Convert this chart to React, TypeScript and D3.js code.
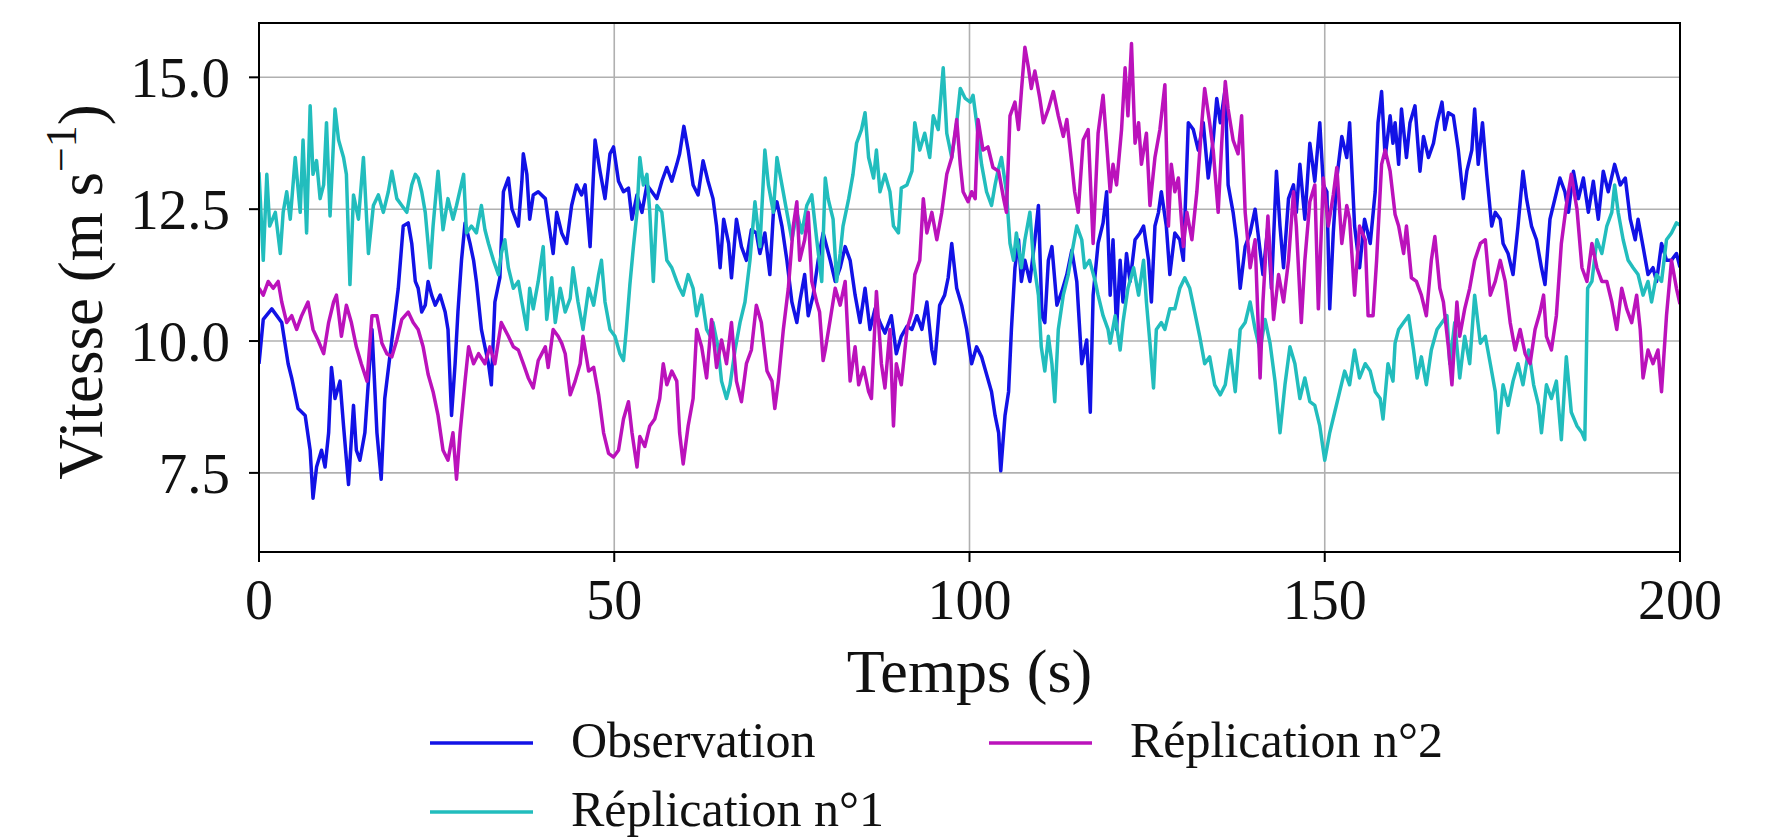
import React from 'react';
import * as d3 from 'd3';

type Pt = [number, number];

const xTicks = [0, 50, 100, 150, 200];
const yTicks = [7.5, 10.0, 12.5, 15.0];
const seriesNames = ['Observation', 'Réplication n°1', 'Réplication n°2'];
const seriesColors = ['#1212e6', '#22bdbd', '#bb12bb'];

const observation: Pt[] = [
  [0, 9.57], [0.6, 10.41], [1.8, 10.61], [3.2, 10.35], [4.1, 9.57], [4.6, 9.3], [5.5, 8.72], [6.5, 8.59], [7.2, 7.93], [7.6, 7.02],
  [8.1, 7.61], [8.8, 7.93], [9.3, 7.61], [9.8, 8.26], [10.2, 9.5], [10.7, 8.91], [11.4, 9.24], [11.9, 8.39], [12.6, 7.28], [13.3, 8.78],
  [13.7, 7.93], [14.2, 7.74], [14.9, 8.26], [15.9, 10.22], [16.6, 8.26], [17.2, 7.38], [17.7, 8.91], [18.7, 10.02], [19.6, 11.0], [20.3, 12.18],
  [21.0, 12.24], [21.5, 11.85], [22.0, 11.13], [22.4, 11.0], [22.9, 10.55], [23.4, 10.68], [23.8, 11.13], [24.3, 10.87], [24.8, 10.68], [25.5, 10.87],
  [26.2, 10.55], [26.6, 10.22], [27.1, 8.59], [27.6, 9.57], [28.0, 10.55], [28.5, 11.53], [29.0, 12.24], [29.7, 11.85], [30.2, 11.53], [30.6, 11.13],
  [31.3, 10.22], [31.8, 9.89], [32.3, 9.57], [32.7, 9.17], [33.2, 10.74], [33.9, 11.2], [34.4, 12.83], [35.1, 13.09], [35.6, 12.5], [36.5, 12.18],
  [37.0, 13.03], [37.2, 13.55], [37.7, 13.16], [38.1, 12.31], [38.6, 12.77], [39.3, 12.83], [40.3, 12.7], [40.7, 12.31], [41.4, 11.66], [41.9, 12.44],
  [42.6, 12.05], [43.3, 11.85], [44.0, 12.57], [44.7, 12.96], [45.4, 12.77], [45.9, 12.96], [46.6, 11.79], [47.3, 13.81], [48.0, 13.22], [48.7, 12.7],
  [49.4, 13.55], [49.9, 13.68], [50.6, 13.03], [51.3, 12.83], [52.0, 12.9], [52.5, 12.31], [53.2, 12.77], [53.9, 12.44], [54.6, 12.96], [55.3, 12.83],
  [56.0, 12.7], [56.7, 13.03], [57.4, 13.29], [58.1, 13.03], [58.8, 13.35], [59.2, 13.55], [59.8, 14.07], [60.4, 13.62], [61.1, 12.96], [61.8, 12.77],
  [62.5, 13.42], [63.2, 13.03], [63.9, 12.7], [64.4, 12.18], [64.9, 11.39], [65.4, 12.31], [66.1, 11.85], [66.5, 11.2], [67.2, 12.31], [67.9, 11.79],
  [68.6, 11.53], [69.3, 12.11], [70.0, 12.05], [70.5, 11.66], [71.2, 12.05], [71.9, 11.26], [72.4, 12.44], [72.9, 12.64], [73.6, 12.18], [74.3, 11.53],
  [75.0, 10.74], [75.7, 10.35], [76.1, 10.74], [76.8, 11.26], [77.3, 10.48], [78.0, 10.87], [78.7, 11.53], [79.4, 12.05], [80.4, 11.53], [81.1, 11.13],
  [81.8, 11.39], [82.5, 11.79], [83.2, 11.53], [83.9, 10.87], [84.6, 10.35], [85.3, 11.0], [86.0, 10.22], [86.7, 10.61], [87.4, 10.35], [88.1, 10.15],
  [89.0, 10.48], [89.7, 9.76], [90.4, 10.09], [91.2, 10.28], [91.9, 10.22], [92.6, 10.48], [93.3, 10.22], [94.0, 10.74], [94.7, 9.83], [95.1, 9.57],
  [95.8, 10.68], [96.5, 10.87], [97.0, 11.2], [97.5, 11.85], [98.2, 11.0], [98.9, 10.68], [99.6, 10.22], [100.3, 9.57], [101.0, 9.89], [101.7, 9.7],
  [102.4, 9.37], [103.1, 9.04], [103.6, 8.59], [104.1, 8.26], [104.4, 7.54], [105.0, 8.59], [105.5, 9.04], [105.9, 10.22], [106.4, 11.39], [106.9, 11.92],
  [107.3, 11.13], [107.8, 11.53], [108.5, 11.13], [109.2, 11.92], [109.7, 12.57], [110.2, 10.48], [110.6, 10.35], [111.1, 11.53], [111.6, 11.79], [112.3, 10.68],
  [113.0, 10.94], [113.7, 11.26], [114.4, 11.72], [115.1, 11.13], [115.8, 9.57], [116.5, 10.02], [117.0, 8.65], [117.4, 10.87], [118.1, 11.85], [118.8, 12.24],
  [119.3, 12.83], [119.8, 10.87], [120.2, 11.92], [120.7, 10.22], [121.2, 11.53], [121.6, 10.74], [122.1, 11.66], [122.6, 11.13], [123.3, 11.92], [124.0, 12.05],
  [124.5, 12.18], [125.2, 11.53], [125.6, 10.74], [126.1, 12.18], [126.6, 12.44], [127.0, 12.83], [127.7, 12.18], [128.2, 11.26], [128.9, 12.05], [129.6, 11.92],
  [130.1, 11.53], [130.8, 14.14], [131.5, 14.01], [132.2, 13.62], [132.9, 14.14], [133.6, 13.09], [134.3, 13.81], [134.8, 14.6], [135.3, 14.14], [136.0, 14.79],
  [136.4, 12.96], [137.1, 12.44], [137.6, 11.92], [138.1, 11.0], [138.8, 11.79], [139.5, 12.05], [140.2, 12.5], [140.6, 12.05], [141.3, 11.26], [142.0, 12.18],
  [142.5, 11.0], [143.2, 13.22], [143.7, 12.18], [144.2, 11.39], [144.9, 12.7], [145.6, 12.96], [146.0, 12.44], [146.5, 13.35], [147.2, 12.31], [147.9, 13.75],
  [148.6, 13.03], [149.3, 14.14], [149.8, 12.96], [150.3, 12.83], [150.7, 10.61], [151.2, 12.05], [151.7, 13.09], [152.4, 13.88], [153.1, 13.48], [153.5, 14.14],
  [154.2, 12.18], [154.9, 11.39], [155.6, 12.31], [156.4, 11.85], [157.1, 12.83], [157.5, 14.14], [158.0, 14.73], [158.5, 13.48], [159.2, 14.27], [159.6, 13.75],
  [159.9, 14.14], [160.4, 13.35], [160.8, 14.4], [161.5, 13.48], [162.0, 14.14], [162.7, 14.46], [163.4, 13.22], [163.9, 13.88], [164.6, 13.48], [165.3, 13.75],
  [165.8, 14.14], [166.5, 14.53], [166.9, 14.01], [167.4, 14.33], [168.1, 14.27], [168.8, 13.62], [169.5, 12.7], [170.0, 13.22], [170.7, 13.62], [171.1, 14.4],
  [171.6, 13.35], [172.2, 14.14], [172.8, 13.16], [173.5, 12.18], [174.0, 12.44], [174.7, 12.31], [175.1, 11.85], [175.8, 11.66], [176.5, 11.26], [177.2, 12.18],
  [177.9, 13.22], [178.4, 12.7], [179.1, 12.18], [179.8, 11.92], [180.5, 11.39], [181.0, 11.07], [181.7, 12.31], [182.4, 12.7], [183.1, 13.09], [183.8, 12.83],
  [184.3, 12.44], [185.0, 13.22], [185.7, 12.7], [186.4, 13.09], [187.1, 12.44], [187.8, 13.03], [188.5, 12.31], [189.2, 13.22], [189.9, 12.83], [190.8, 13.35],
  [191.6, 12.96], [192.3, 13.09], [193.0, 12.31], [193.7, 11.92], [194.1, 12.31], [194.8, 11.79], [195.5, 11.26], [196.2, 11.39], [196.7, 11.13], [197.4, 11.85],
  [198.1, 11.53], [198.8, 11.53], [199.5, 11.66], [200, 11.4],
];

const replication1: Pt[] = [
  [0, 13.2], [0.6, 11.53], [1.1, 13.16], [1.5, 12.18], [2.3, 12.44], [3.0, 11.66], [3.4, 12.44], [3.9, 12.83], [4.4, 12.31], [5.1, 13.48],
  [5.8, 12.44], [6.2, 13.81], [6.7, 12.05], [7.2, 14.46], [7.6, 13.16], [8.1, 13.42], [8.6, 12.7], [9.1, 12.96], [9.5, 14.14], [10.0, 12.37],
  [10.7, 14.4], [11.2, 13.81], [11.9, 13.48], [12.3, 13.16], [12.8, 11.07], [13.3, 12.77], [14.0, 12.31], [14.7, 13.48], [15.4, 11.66], [16.1, 12.57],
  [16.8, 12.77], [17.5, 12.44], [18.2, 12.83], [18.7, 13.22], [19.4, 12.7], [20.1, 12.57], [20.8, 12.44], [21.5, 12.96], [22.0, 13.16], [22.4, 13.09],
  [22.9, 12.83], [23.4, 12.44], [24.1, 11.39], [24.5, 12.18], [25.2, 13.22], [25.9, 12.11], [26.6, 12.7], [27.3, 12.31], [27.8, 12.57], [28.8, 13.16],
  [29.2, 12.05], [29.9, 12.18], [30.6, 12.05], [31.3, 12.57], [31.8, 12.11], [32.3, 11.85], [33.0, 11.53], [33.7, 11.26], [34.1, 11.66], [34.6, 11.92],
  [35.1, 11.39], [35.8, 11.0], [36.5, 11.13], [37.0, 10.74], [37.7, 10.22], [38.1, 11.0], [38.6, 10.61], [39.3, 11.13], [40.0, 11.79], [40.5, 10.41],
  [41.2, 11.2], [41.7, 10.35], [42.4, 11.0], [43.1, 10.55], [43.8, 10.81], [44.2, 11.39], [44.9, 10.74], [45.6, 10.22], [46.4, 11.0], [47.1, 10.68],
  [47.8, 11.26], [48.2, 11.53], [48.7, 10.74], [49.4, 10.22], [50.1, 10.09], [50.8, 9.76], [51.3, 9.63], [51.7, 10.22], [52.2, 11.07], [52.7, 11.79],
  [53.2, 12.44], [53.6, 13.48], [54.1, 12.96], [54.6, 13.16], [55.0, 12.44], [55.5, 11.13], [56.0, 12.57], [56.7, 12.44], [57.4, 11.53], [58.1, 11.39],
  [58.8, 11.13], [59.2, 11.0], [59.7, 10.87], [60.4, 11.26], [61.1, 11.0], [61.6, 10.48], [62.3, 10.87], [63.0, 10.22], [63.5, 10.09], [63.9, 10.35],
  [64.6, 9.89], [65.1, 9.24], [65.8, 8.91], [66.3, 9.17], [67.0, 9.83], [67.7, 10.35], [68.4, 10.74], [69.1, 11.53], [69.8, 12.64], [70.5, 11.79],
  [71.2, 13.62], [71.7, 12.96], [72.4, 12.44], [72.9, 13.48], [73.6, 12.96], [74.3, 12.44], [75.0, 11.92], [75.7, 12.44], [76.4, 12.05], [77.1, 12.57],
  [77.8, 12.77], [78.5, 11.92], [79.2, 11.13], [79.7, 13.09], [80.1, 12.7], [80.8, 12.31], [81.3, 11.13], [81.8, 11.66], [82.2, 12.18], [83.0, 12.7],
  [83.6, 13.16], [84.1, 13.75], [84.8, 14.01], [85.3, 14.33], [85.8, 13.48], [86.5, 13.09], [86.9, 13.62], [87.4, 12.83], [88.1, 13.16], [88.8, 12.83],
  [89.3, 12.18], [90.0, 12.05], [90.4, 12.9], [91.2, 12.96], [91.9, 13.22], [92.3, 14.14], [93.0, 13.62], [93.7, 13.94], [94.4, 13.48], [94.9, 14.27],
  [95.6, 14.01], [96.3, 15.18], [96.8, 13.94], [97.5, 13.48], [98.2, 14.14], [98.7, 14.79], [99.4, 14.6], [100.1, 14.53], [100.5, 14.66], [101.0, 14.14],
  [101.7, 13.35], [102.4, 12.83], [103.1, 12.57], [103.6, 12.96], [104.0, 13.22], [104.5, 13.48], [105.2, 12.83], [105.7, 11.85], [106.2, 11.53], [106.6, 12.05],
  [107.3, 11.39], [107.8, 11.92], [108.5, 12.44], [109.0, 11.53], [109.7, 10.87], [110.1, 9.89], [110.6, 9.43], [111.1, 10.09], [111.6, 9.57], [112.0, 8.85],
  [112.5, 10.22], [113.2, 10.87], [113.9, 11.26], [114.4, 11.66], [115.1, 12.18], [115.8, 11.92], [116.2, 11.39], [116.9, 11.53], [117.7, 11.13], [118.1, 10.87],
  [118.8, 10.48], [119.5, 10.22], [119.8, 9.96], [120.5, 10.48], [121.2, 9.83], [121.6, 10.35], [122.3, 11.0], [123.1, 11.39], [123.8, 10.87], [124.5, 11.53],
  [124.9, 10.74], [125.4, 9.96], [125.9, 9.11], [126.3, 10.22], [127.0, 10.35], [127.5, 10.22], [128.2, 10.61], [128.9, 10.61], [129.6, 11.0], [130.3, 11.2],
  [131.0, 11.0], [131.7, 10.55], [132.4, 10.09], [133.1, 9.57], [133.8, 9.7], [134.5, 9.17], [135.3, 8.98], [136.0, 9.17], [136.7, 9.83], [137.4, 9.04],
  [138.1, 10.22], [138.8, 10.35], [139.5, 10.74], [140.2, 10.22], [140.9, 9.83], [141.6, 10.41], [142.3, 9.96], [143.0, 9.24], [143.7, 8.26], [144.4, 9.17],
  [145.1, 9.89], [145.8, 9.57], [146.5, 8.91], [147.2, 9.3], [147.9, 8.85], [148.6, 8.78], [149.3, 8.39], [150.0, 7.74], [150.7, 8.26], [151.4, 8.65],
  [152.1, 9.04], [152.8, 9.43], [153.5, 9.17], [154.2, 9.83], [154.9, 9.3], [155.7, 9.57], [156.4, 9.43], [157.1, 9.04], [157.8, 8.91], [158.2, 8.52],
  [158.9, 9.57], [159.6, 9.24], [159.9, 9.96], [160.4, 10.22], [161.1, 10.35], [161.8, 10.48], [162.5, 9.83], [163.0, 9.3], [163.6, 9.7], [164.3, 9.17],
  [165.0, 9.83], [165.8, 10.22], [166.5, 10.35], [167.2, 10.48], [167.6, 9.57], [168.3, 10.35], [169.0, 9.3], [169.7, 10.09], [170.4, 9.57], [171.1, 10.87],
  [171.9, 9.96], [172.6, 10.09], [173.3, 9.57], [174.0, 9.04], [174.4, 8.26], [175.1, 9.17], [175.8, 8.78], [176.5, 9.24], [177.2, 9.57], [177.9, 9.17],
  [178.7, 9.83], [179.4, 9.17], [180.1, 8.78], [180.5, 8.26], [181.2, 9.17], [181.9, 8.91], [182.6, 9.24], [183.3, 8.13], [184.0, 9.7], [184.7, 8.65],
  [185.5, 8.39], [186.2, 8.26], [186.6, 8.13], [187.0, 11.0], [187.6, 11.13], [188.3, 11.92], [189.0, 11.66], [189.7, 12.18], [190.4, 12.44], [190.8, 12.96],
  [191.3, 12.44], [192.0, 11.92], [192.7, 11.53], [193.4, 11.39], [194.1, 11.26], [194.8, 10.87], [195.5, 11.13], [196.0, 10.74], [196.7, 11.26], [197.4, 11.13],
  [198.1, 11.92], [198.8, 12.05], [199.5, 12.24], [200, 12.2],
];

const replication2: Pt[] = [
  [0, 11.0], [0.6, 10.87], [1.3, 11.13], [2.0, 11.0], [2.7, 11.13], [3.2, 10.74], [3.9, 10.35], [4.6, 10.48], [5.3, 10.22], [6.0, 10.48],
  [6.9, 10.74], [7.6, 10.22], [8.3, 10.02], [9.1, 9.76], [9.8, 10.35], [10.5, 10.74], [10.9, 10.87], [11.6, 10.09], [12.3, 10.68], [13.0, 10.35],
  [13.7, 9.89], [14.4, 9.57], [15.2, 9.24], [15.9, 10.48], [16.6, 10.48], [17.3, 9.96], [18.0, 9.76], [18.7, 9.7], [19.4, 10.02], [20.1, 10.41],
  [21.0, 10.55], [21.7, 10.35], [22.4, 10.22], [23.1, 9.89], [23.8, 9.37], [24.5, 9.04], [25.2, 8.59], [25.9, 7.93], [26.6, 7.74], [27.3, 8.26],
  [27.8, 7.38], [28.3, 8.26], [29.0, 9.24], [29.5, 9.89], [30.2, 9.57], [30.9, 9.76], [31.8, 9.57], [32.5, 9.89], [33.2, 9.57], [34.1, 10.35],
  [35.1, 10.09], [35.8, 9.89], [36.5, 9.83], [37.2, 9.57], [37.9, 9.3], [38.6, 9.11], [39.3, 9.63], [40.3, 9.89], [40.7, 9.5], [41.4, 10.22],
  [42.1, 10.09], [42.6, 9.96], [43.1, 9.76], [43.8, 8.98], [44.5, 9.24], [45.2, 9.57], [45.6, 10.09], [46.4, 9.43], [47.1, 9.5], [47.8, 8.98],
  [48.5, 8.26], [49.2, 7.87], [49.9, 7.8], [50.6, 7.93], [51.3, 8.52], [52.0, 8.85], [52.5, 8.26], [53.2, 7.61], [53.6, 8.19], [54.3, 8.0],
  [55.0, 8.39], [55.7, 8.52], [56.4, 8.91], [56.9, 9.57], [57.4, 9.17], [58.1, 9.43], [58.8, 9.24], [59.2, 8.26], [59.7, 7.67], [60.4, 8.39],
  [61.1, 8.91], [61.6, 10.22], [62.3, 9.89], [63.0, 9.3], [63.7, 10.41], [64.4, 9.5], [65.1, 10.02], [65.8, 9.57], [66.5, 10.35], [67.2, 9.24],
  [67.9, 8.85], [68.6, 9.57], [69.3, 9.83], [70.0, 10.68], [70.7, 10.35], [71.5, 9.43], [72.2, 9.24], [72.6, 8.72], [73.1, 9.24], [73.8, 10.22],
  [74.5, 11.0], [75.2, 12.18], [75.7, 12.64], [76.1, 11.53], [76.8, 11.92], [77.3, 12.44], [77.8, 11.13], [78.5, 10.74], [78.9, 10.55], [79.4, 9.63],
  [79.7, 9.83], [80.4, 10.41], [81.1, 11.0], [81.8, 10.68], [82.5, 11.13], [83.2, 9.24], [83.9, 9.89], [84.4, 9.17], [85.1, 9.5], [85.8, 9.04],
  [86.2, 8.91], [86.9, 10.94], [87.6, 9.57], [88.1, 9.11], [88.8, 10.22], [89.3, 8.39], [89.7, 9.57], [90.4, 9.17], [91.2, 10.22], [91.9, 10.55],
  [92.3, 11.26], [93.0, 11.53], [93.5, 12.7], [94.0, 12.05], [94.7, 12.44], [95.4, 11.92], [96.1, 12.44], [96.8, 13.16], [97.5, 13.48], [98.2, 14.2],
  [98.7, 13.35], [99.1, 12.83], [99.8, 12.64], [100.3, 12.83], [100.8, 12.7], [101.2, 14.2], [101.9, 13.62], [102.6, 13.68], [103.3, 13.29], [104.1, 13.22],
  [104.8, 12.7], [105.2, 12.44], [105.7, 14.27], [106.4, 14.53], [106.9, 14.01], [107.3, 14.73], [107.8, 15.57], [108.3, 15.18], [108.7, 14.79], [109.2, 15.12],
  [109.9, 14.6], [110.4, 14.14], [111.1, 14.4], [111.8, 14.73], [112.5, 14.27], [113.2, 13.88], [113.7, 14.2], [114.4, 13.35], [114.8, 12.83], [115.3, 12.44],
  [116.0, 13.81], [116.7, 14.01], [117.4, 11.85], [118.1, 13.94], [118.8, 14.66], [119.3, 13.75], [119.8, 12.83], [120.2, 13.35], [120.7, 12.96], [121.4, 14.01],
  [121.9, 15.18], [122.3, 14.27], [122.8, 15.64], [123.3, 13.75], [123.8, 14.14], [124.2, 13.35], [124.9, 13.94], [125.4, 12.57], [126.1, 13.48], [126.8, 14.01],
  [127.5, 14.86], [128.0, 12.18], [128.4, 13.35], [128.9, 12.83], [129.4, 13.09], [130.1, 11.79], [130.6, 12.44], [131.3, 11.92], [132.0, 12.83], [132.7, 14.14],
  [133.1, 14.79], [133.8, 14.14], [134.3, 13.62], [135.0, 12.44], [135.5, 13.75], [136.0, 14.92], [136.4, 14.4], [137.1, 13.81], [137.8, 13.55], [138.3, 14.27],
  [138.8, 12.44], [139.5, 11.39], [140.2, 11.92], [140.9, 9.3], [141.3, 10.74], [142.0, 12.37], [142.8, 10.41], [143.5, 11.26], [144.2, 10.74], [144.9, 11.53],
  [145.6, 12.83], [146.0, 12.18], [146.7, 10.35], [147.2, 11.53], [147.9, 12.64], [148.6, 12.96], [149.1, 10.61], [149.8, 13.09], [150.5, 12.18], [151.2, 12.77],
  [151.7, 13.29], [152.4, 11.85], [153.1, 12.57], [153.5, 12.31], [154.2, 10.87], [154.9, 12.18], [155.7, 11.92], [156.1, 10.48], [156.8, 10.48], [157.3, 11.53],
  [158.0, 13.35], [158.5, 13.62], [159.2, 13.22], [159.9, 12.4], [160.4, 12.18], [161.1, 11.66], [161.5, 12.18], [162.2, 11.2], [162.9, 11.13], [163.6, 10.87],
  [164.3, 10.48], [165.0, 11.53], [165.5, 11.98], [166.2, 11.0], [166.7, 10.74], [167.4, 9.89], [167.9, 9.17], [168.6, 10.74], [169.0, 10.09], [169.7, 10.61],
  [170.4, 11.0], [171.1, 11.53], [171.9, 11.85], [172.6, 11.92], [173.3, 10.87], [174.0, 11.13], [174.7, 11.53], [175.4, 11.13], [176.1, 10.35], [176.8, 9.83],
  [177.5, 10.22], [178.2, 9.76], [178.9, 9.57], [179.6, 10.22], [180.3, 10.55], [180.8, 10.87], [181.2, 10.09], [181.9, 9.83], [182.6, 10.48], [183.3, 11.85],
  [184.0, 12.57], [184.7, 13.16], [185.5, 12.5], [186.2, 11.39], [186.9, 11.13], [187.6, 11.85], [188.3, 11.39], [189.0, 11.13], [189.7, 11.13], [190.4, 10.74],
  [191.1, 10.22], [191.8, 11.0], [192.5, 10.61], [193.2, 10.35], [193.9, 10.87], [194.4, 10.22], [194.8, 9.3], [195.5, 9.83], [196.2, 9.57], [196.9, 9.83],
  [197.4, 9.04], [198.1, 10.48], [198.8, 11.53], [199.5, 11.0], [200, 10.7],
];

const allSeries = [observation, replication1, replication2];

const FONT = '"Liberation Serif", "DejaVu Serif", serif';

export default function App() {
  const width = 1773;
  const height = 838;
  const plot = { left: 259, right: 1680, top: 23, bottom: 552 };

  const x = d3.scaleLinear().domain([0, 200]).range([plot.left, plot.right]);
  const y = d3.scaleLinear().domain([6.0, 16.03]).range([plot.bottom, plot.top]);
  const line = d3
    .line<Pt>()
    .x((d) => x(d[0]))
    .y((d) => y(d[1]));

  const legendItems = [
    { name: seriesNames[0], color: seriesColors[0], col: 0, row: 0 },
    { name: seriesNames[1], color: seriesColors[1], col: 0, row: 1 },
    { name: seriesNames[2], color: seriesColors[2], col: 1, row: 0 },
  ];
  const legendCols = [430, 989];
  const legendRows = [743, 812];

  return (
    <svg
      width={width}
      height={height}
      viewBox={`0 0 ${width} ${height}`}
      style={{ position: 'absolute', left: 0, top: 0, background: '#fff' }}
    >
      <rect x={0} y={0} width={width} height={height} fill="#fff" />
      <defs>
        <clipPath id="plotclip">
          <rect x={plot.left} y={plot.top} width={plot.right - plot.left} height={plot.bottom - plot.top} />
        </clipPath>
      </defs>
      {/* grid */}
      {xTicks.map((t) => (
        <line key={'gx' + t} x1={x(t)} x2={x(t)} y1={plot.top} y2={plot.bottom} stroke="#b0b0b0" strokeWidth={1.6} />
      ))}
      {yTicks.map((t) => (
        <line key={'gy' + t} x1={plot.left} x2={plot.right} y1={y(t)} y2={y(t)} stroke="#b0b0b0" strokeWidth={1.6} />
      ))}
      {/* series */}
      <g clipPath="url(#plotclip)">
        {allSeries.map((s, i) => (
          <path
            key={i}
            d={line(s) || ''}
            fill="none"
            stroke={seriesColors[i]}
            strokeWidth={3.5}
            strokeLinejoin="round"
          />
        ))}
      </g>
      {/* frame */}
      <rect
        x={plot.left}
        y={plot.top}
        width={plot.right - plot.left}
        height={plot.bottom - plot.top}
        fill="none"
        stroke="#000"
        strokeWidth={2}
      />
      {/* x ticks */}
      {xTicks.map((t) => (
        <g key={'xt' + t}>
          <line x1={x(t)} x2={x(t)} y1={plot.bottom} y2={plot.bottom + 10} stroke="#000" strokeWidth={2} />
          <text x={x(t)} y={619} textAnchor="middle" fontFamily={FONT} fontSize={56} fill="#111">
            {t}
          </text>
        </g>
      ))}
      {/* y ticks */}
      {yTicks.map((t) => (
        <g key={'yt' + t}>
          <line x1={plot.left - 10} x2={plot.left} y1={y(t)} y2={y(t)} stroke="#000" strokeWidth={2} />
          <text
            x={plot.left - 29}
            y={y(t)}
            dy="0.35em"
            textAnchor="end"
            fontFamily={FONT}
            fontSize={57}
            fill="#111"
          >
            {t.toFixed(1)}
          </text>
        </g>
      ))}
      {/* axis labels */}
      <text x={(plot.left + plot.right) / 2} y={692} textAnchor="middle" fontFamily={FONT} fontSize={62} fill="#111">
        Temps (s)
      </text>
      <text
        transform={`translate(102, 292) rotate(-90)`}
        textAnchor="middle"
        fontFamily={FONT}
        fontSize={63}
        fill="#111"
      >
        Vitesse (m s
        <tspan fontSize={44} dy={-26}>
          −1
        </tspan>
        <tspan dy={26}>)</tspan>
      </text>
      {/* legend */}
      {legendItems.map((it) => (
        <g key={it.name}>
          <line
            x1={legendCols[it.col]}
            x2={legendCols[it.col] + 103}
            y1={legendRows[it.row]}
            y2={legendRows[it.row]}
            stroke={it.color}
            strokeWidth={3.5}
          />
          <text
            x={legendCols[it.col] + 141}
            y={legendRows[it.row]}
            dy="0.27em"
            fontFamily={FONT}
            fontSize={50}
            fill="#111"
          >
            {it.name}
          </text>
        </g>
      ))}
    </svg>
  );
}
